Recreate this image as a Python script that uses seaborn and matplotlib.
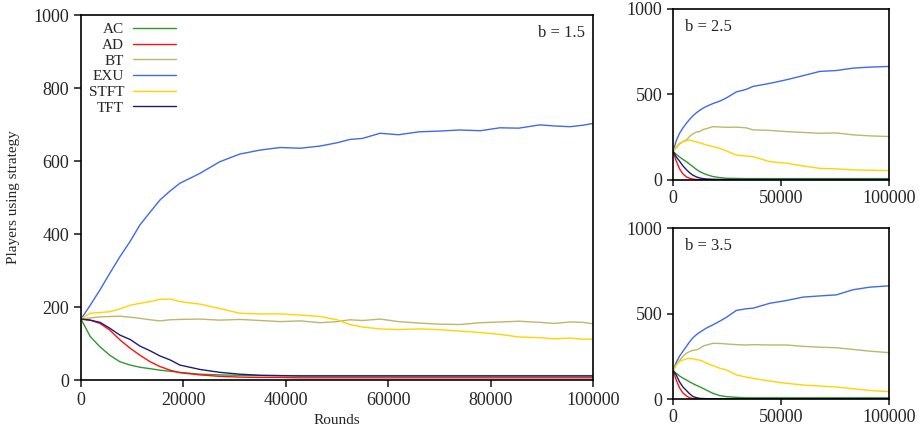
import pandas as pd
import matplotlib
matplotlib.use("Agg")
import matplotlib.pyplot as plt
import seaborn as sns

strategies = ["AC", "AD", "BT", "EXU", "STFT", "TFT"]
colors = ["#2e9a2e", "#ff1010", "#bdb76b", "#3f6ae8", "#ffd400", "#1c1c78"]

# b = 1.5 (main panel)
x_main = [0, 1800, 3700, 5600, 7600, 9600, 11500, 13500, 15400, 17400, 19300,
          23200, 27100, 31000, 35000, 38900, 42800, 46700, 50000, 52500, 55000,
          58400, 62000, 66000, 70000, 74000, 78000, 81800, 85500, 89600, 92500,
          95500, 98000, 100000]
ac_15 = [167, 119, 91, 68, 50, 41, 35, 31, 27, 24, 21, 16, 14, 13, 12, 12, 12, 12,
         12, 12, 12, 12, 12, 12, 12, 12, 12, 12, 12, 12, 12, 12, 12, 12]
ad_15 = [167, 164, 155, 137, 110, 87, 68, 50, 37, 27, 20, 14, 10, 8, 7, 7, 6, 6,
         6, 6, 6, 6, 6, 6, 6, 6, 6, 6, 6, 6, 6, 6, 6, 6]
bt_15 = [167, 170, 173, 174, 175, 172, 169, 165, 162, 165, 166, 167, 164, 166, 163,
         160, 162, 157, 160, 165, 163, 167, 160, 156, 153, 152, 157, 159, 161, 158,
         155, 159, 158, 154]
exu_15 = [167, 205, 247, 292, 338, 380, 425, 460, 493, 518, 539, 566, 598, 619, 630,
          637, 635, 641, 650, 659, 662, 676, 672, 680, 682, 685, 683, 691, 690, 699,
          696, 694, 698, 703]
stft_15 = [167, 183, 185, 187, 195, 205, 210, 215, 221, 222, 215, 208, 196, 183, 181,
           181, 178, 174, 165, 152, 145, 140, 138, 140, 138, 134, 130, 125, 118, 116,
           113, 115, 112, 112]
tft_15 = [167, 164, 158, 142, 123, 111, 93, 80, 66, 55, 41, 29, 21, 16, 13, 12, 11,
          11, 11, 11, 11, 11, 11, 11, 11, 11, 11, 11, 11, 11, 11, 11, 11, 11]

# small panels
x_small = [0, 1500, 3000, 4600, 6200, 7700, 9200, 10800, 12300, 13900, 15400, 18500,
           21600, 24700, 29300, 33900, 37000, 44800, 52500, 60200, 68000, 75600,
           83300, 91000, 100000]
ac_25 = [167, 150, 135, 120, 107, 92, 78, 62, 49, 40, 32, 20, 14, 10, 9, 8, 8, 8, 8,
         8, 8, 8, 8, 8, 8]
ad_25 = [167, 110, 65, 35, 18, 10, 5, 3, 2, 2, 2, 2, 2, 2, 2, 2, 2, 2, 2, 2, 2, 2,
         2, 2, 2]
bt_25 = [167, 190, 210, 225, 234, 255, 270, 280, 283, 295, 300, 312, 310, 308, 309,
         305, 293, 290, 283, 278, 273, 275, 264, 258, 254]
exu_25 = [167, 230, 273, 305, 332, 355, 375, 393, 407, 420, 430, 447, 461, 480, 515,
          530, 547, 565, 586, 610, 635, 640, 654, 660, 664]
stft_25 = [167, 195, 215, 225, 230, 234, 228, 222, 218, 211, 205, 195, 186, 170, 146,
           140, 137, 107, 98, 82, 68, 65, 59, 57, 55]
tft_25 = [167, 135, 110, 82, 60, 42, 28, 18, 12, 8, 6, 4, 3, 3, 3, 3, 3, 3, 3, 3, 3,
          3, 3, 3, 3]

ac_35 = [167, 150, 135, 122, 111, 100, 90, 80, 72, 62, 52, 33, 20, 14, 10, 7, 7, 7,
         7, 7, 7, 7, 7, 7, 7]
ad_35 = [167, 110, 65, 35, 18, 7, 3, 2, 1, 1, 1, 1, 1, 1, 1, 1, 1, 1, 1, 1, 1, 1, 1,
         1, 1]
bt_35 = [167, 200, 225, 250, 268, 278, 285, 287, 295, 310, 315, 326, 325, 322, 318,
         316, 318, 316, 316, 308, 303, 300, 290, 280, 271]
exu_35 = [167, 215, 250, 280, 308, 335, 358, 376, 390, 403, 415, 434, 455, 478, 518,
          528, 531, 560, 576, 596, 603, 609, 639, 654, 662]
stft_35 = [167, 200, 220, 228, 235, 238, 235, 230, 228, 220, 210, 195, 180, 170, 141,
           128, 121, 105, 92, 82, 76, 70, 60, 50, 43]
tft_35 = [167, 140, 100, 70, 50, 30, 15, 8, 4, 3, 2, 2, 2, 2, 2, 2, 2, 2, 2, 2, 2, 2,
          2, 2, 2]


def long_frame(x, series):
    rows = []
    for name, vals in zip(strategies, series):
        rows.append(pd.DataFrame({"Rounds": x, "Players": vals, "Strategy": name}))
    return pd.concat(rows, ignore_index=True)


df_15 = long_frame(x_main, [ac_15, ad_15, bt_15, exu_15, stft_15, tft_15])
df_25 = long_frame(x_small, [ac_25, ad_25, bt_25, exu_25, stft_25, tft_25])
df_35 = long_frame(x_small, [ac_35, ad_35, bt_35, exu_35, stft_35, tft_35])

sns.set_style("ticks")
plt.rcParams["font.family"] = ["Liberation Serif", "DejaVu Serif"]
plt.rcParams["axes.linewidth"] = 1.2

palette = dict(zip(strategies, colors))

fig = plt.figure(figsize=(9.23, 4.34), dpi=100)
ax_main = fig.add_axes([0.0878, 0.1244, 0.5547, 0.841])
ax_25 = fig.add_axes([0.7292, 0.5853, 0.234, 0.394])
ax_35 = fig.add_axes([0.7292, 0.0806, 0.234, 0.394])

sns.lineplot(data=df_15, x="Rounds", y="Players", hue="Strategy", palette=palette,
             estimator=None, linewidth=1.0, ax=ax_main)
sns.lineplot(data=df_25, x="Rounds", y="Players", hue="Strategy", palette=palette,
             estimator=None, linewidth=1.0, ax=ax_25, legend=False)
sns.lineplot(data=df_35, x="Rounds", y="Players", hue="Strategy", palette=palette,
             estimator=None, linewidth=1.0, ax=ax_35, legend=False)

# main panel styling
ax_main.set_xlim(0, 100000)
ax_main.set_ylim(0, 1000)
ax_main.set_xticks(range(0, 100001, 20000))
ax_main.set_yticks(range(0, 1001, 200))
ax_main.set_xlabel("Rounds", fontsize=11)
ax_main.set_ylabel("Players using strategy", fontsize=11, labelpad=10)
ax_main.tick_params(labelsize=13, length=5, width=1.2)
ax_main.text(0.984, 0.951, "b = 1.5", transform=ax_main.transAxes, ha="right",
             va="center", fontsize=12)

handles, labels = ax_main.get_legend_handles_labels()
ax_main.legend(handles, labels, loc="upper left", bbox_to_anchor=(0.0, 1.0),
               markerfirst=False, frameon=False, fontsize=11, handlelength=2.8,
               labelspacing=0.13, handletextpad=0.6, borderaxespad=0.1)

for ax, lab in [(ax_25, "b = 2.5"), (ax_35, "b = 3.5")]:
    ax.set_xlim(0, 100000)
    ax.set_ylim(0, 1000)
    ax.set_xticks([0, 50000, 100000])
    ax.set_yticks([0, 500, 1000])
    ax.set_xlabel("")
    ax.set_ylabel("")
    ax.tick_params(labelsize=13, length=4, width=1.2)
    ax.text(0.056, 0.895, lab, transform=ax.transAxes, ha="left", va="center",
            fontsize=12)

for ax in [ax_main, ax_25, ax_35]:
    for s in ax.spines.values():
        s.set_visible(True)
        s.set_color("black")

fig.savefig("out.png", dpi=100)
